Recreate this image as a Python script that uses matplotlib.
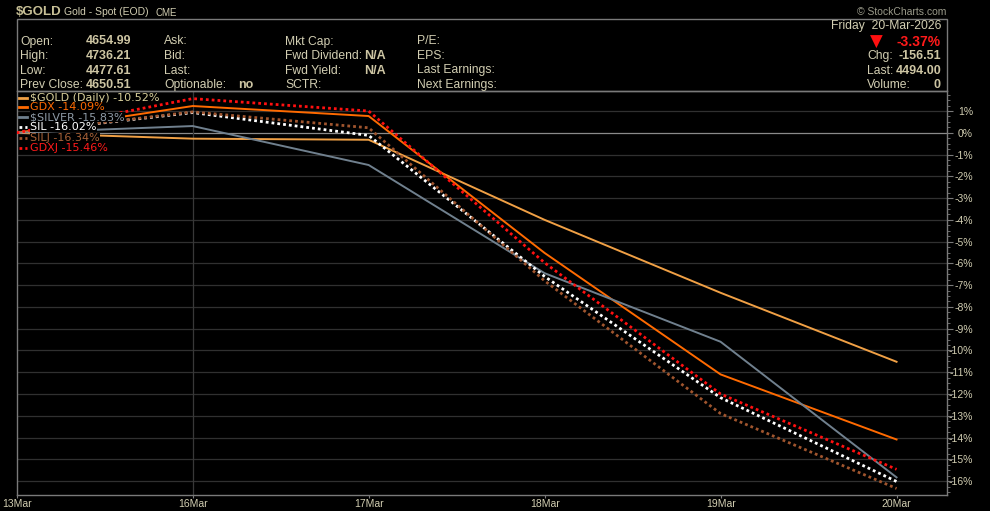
import matplotlib
matplotlib.use('Agg')
import matplotlib.pyplot as plt
from matplotlib.lines import Line2D
from matplotlib.patches import Rectangle
from matplotlib.ticker import MultipleLocator

# data: % performance since 13 Mar
dates = ['13Mar', '16Mar', '17Mar', '18Mar', '19Mar', '20Mar']
gold = [0, -0.27, -0.32, -4.0, -7.35, -10.52]
gdx = [0, 1.23, 0.77, -5.52, -11.1, -14.09]
silver = [0, 0.31, -1.48, -6.45, -9.6, -15.83]
silj = [0, 0.96, 0.23, -6.8, -12.9, -16.34]
sil = [0, 0.93, -0.12, -6.6, -12.17, -16.02]
gdxj = [0, 1.57, 1.0, -5.97, -12.0, -15.46]

legend_labels = ['$GOLD (Daily) -10.52%', 'GDX -14.09%', '$SILVER -15.83%',
                 'SIL -16.02%', 'SILJ -16.34%', 'GDXJ -15.46%']
ytick_vals = list(range(-16, 2))

header_rows = [
    ('Open:', '4654.99', 'Ask:', '', 'Mkt Cap:', '', 'P/E:'),
    ('High:', '4736.21', 'Bid:', '', 'Fwd Dividend:', 'N/A', 'EPS:'),
    ('Low:', '4477.61', 'Last:', '', 'Fwd Yield:', 'N/A', 'Last Earnings:'),
    ('Prev Close:', '4650.51', 'Optionable:', 'no', 'SCTR:', '', 'Next Earnings:'),
]

W, H = 990, 511
BG = 'black'
TXT = '#d2ceb2'
VAL = '#cdc5a3'
GRID = '#303030'
EDGE = '#7a7a7a'

def px(x, y):
    return x / W, 1 - y / H

fig = plt.figure(figsize=(W / 100, H / 100), dpi=100, facecolor=BG)
plt.rcParams['font.family'] = ['Liberation Sans', 'DejaVu Sans']

ax = fig.add_axes([16.7 / W, (H - 495) / H, 930 / W, (495 - 91) / H])
ax.set_facecolor(BG)
x = list(range(len(dates)))

for v in ytick_vals:
    ax.axhline(v, color='#8a8a8a' if v == 0 else GRID, lw=0.9, zorder=1)
ax.axvline(1, color='#383838', lw=0.9, zorder=1)

dot = (0, (1.0, 1.1))
series = [
    (gold, dict(color='#f0a045', lw=1.4, ls='-')),
    (gdx, dict(color='#ff6a00', lw=1.4, ls='-')),
    (silver, dict(color='#70808e', lw=1.4, ls='-')),
    (sil, dict(color='white', lw=2.0, ls=dot)),
    (silj, dict(color='#a0552e', lw=2.0, ls=dot)),
    (gdxj, dict(color='#ff1010', lw=2.0, ls=dot)),
]
order = [0, 1, 2, 4, 3, 5]
for i in order:
    vals, st = series[i]
    ax.plot(x, vals, color=st['color'], lw=st['lw'], linestyle=st['ls'],
            dash_capstyle='butt', zorder=3 + i)

ax.set_xlim(0, 5.285)
ax.set_ylim(-16.64, 1.92)
ax.set_xticks(x)
ax.set_xticklabels(dates)
ax.yaxis.tick_right()
ax.set_yticks(ytick_vals)
ax.set_yticklabels([f'{v}%' for v in ytick_vals])
ax.yaxis.set_minor_locator(MultipleLocator(0.25))
ax.tick_params(axis='y', which='major', length=4, color=EDGE, labelcolor=TXT,
               labelsize=7.5, pad=15)
ax.tick_params(axis='y', which='minor', length=2, color=EDGE)
ax.tick_params(axis='x', length=2, color=EDGE, labelcolor=TXT, labelsize=7.5, pad=1)
for t in ax.yaxis.get_majorticklabels():
    t.set_horizontalalignment('right')
for s in ax.spines.values():
    s.set_color(EDGE)
    s.set_linewidth(1.0)

# legend, drawn by hand so each entry masks the lines behind it
text_colors = ['#d8cf9a', '#ff6a00', '#8e9aa6', 'white', '#a86238', '#ff1a1a']
leg_y = [98, 107, 117, 127, 138, 148]
for i, lab in enumerate(legend_labels):
    _, st = series[i]
    yy = leg_y[i]
    ax.text(*px(30, yy), lab, transform=fig.transFigure, color=text_colors[i],
            fontsize=8, family='DejaVu Sans', va='center', ha='left', zorder=20,
            bbox=dict(facecolor=BG, edgecolor='none', pad=0.2))
    ax.add_line(Line2D([19 / W, 27 / W], [1 - yy / H] * 2, transform=fig.transFigure,
                       color=st['color'], lw=2.0, linestyle=st['ls'],
                       dash_capstyle='butt', clip_on=False, zorder=21))

# header box
fig.patches.append(Rectangle(px(16.7, 91), 930 / W, 72 / H, transform=fig.transFigure,
                             facecolor='none', edgecolor=EDGE, lw=1.0))
fig.text(*px(16, 12), '$GOLD', color='#c8c096', fontsize=9.5, weight='bold',
         va='center', ha='left')
fig.text(*px(64, 12), 'Gold - Spot (EOD)', color=TXT, fontsize=7.5, va='center', ha='left')
fig.text(*px(155, 12.5), 'CME', color=TXT, fontsize=7, va='center', ha='left')
fig.text(*px(946, 12), '\u00a9 StockCharts.com', color='#9a9a8a', fontsize=7.5,
         va='center', ha='right')

LBL = 8.7
row_y = [41.5, 56, 70.5, 85]
for (l1, v1, l2, v2, l3, v3, l4), yy in zip(header_rows, row_y):
    fig.text(*px(20, yy), l1, color=TXT, fontsize=LBL, va='center')
    fig.text(*px(86, yy), v1, color=VAL, fontsize=9, weight='bold', va='center')
    fig.text(*px(164, yy), l2, color=TXT, fontsize=LBL, va='center')
    fig.text(*px(238, yy), v2, color=VAL, fontsize=9, weight='bold', va='center')
    fig.text(*px(285, yy), l3, color=TXT, fontsize=LBL, va='center')
    fig.text(*px(364, yy), v3, color=VAL, fontsize=9, weight='bold', va='center')
    fig.text(*px(417, yy), l4, color=TXT, fontsize=LBL, va='center')

fig.text(*px(941, 26.5), 'Friday  20-Mar-2026', color=TXT, fontsize=LBL, va='center', ha='right')
fig.text(*px(876, 41.5), '\u25bc', color='#ff1010', fontsize=12, family='DejaVu Sans',
         va='center', ha='center')
fig.text(*px(941, 41.5), '-3.37%', color='#ff1a1a', fontsize=10, weight='bold',
         va='center', ha='right')
for lab, val, yy in [('Chg:', '-156.51', 56), ('Last:', '4494.00', 70.5),
                     ('Volume:', '0', 85)]:
    fig.text(*px(867, yy), lab, color=TXT, fontsize=LBL, va='center', ha='left')
    fig.text(*px(941, yy), val, color=VAL, fontsize=9, weight='bold',
             va='center', ha='right')

fig.savefig('out.png', dpi=100, facecolor=BG)
